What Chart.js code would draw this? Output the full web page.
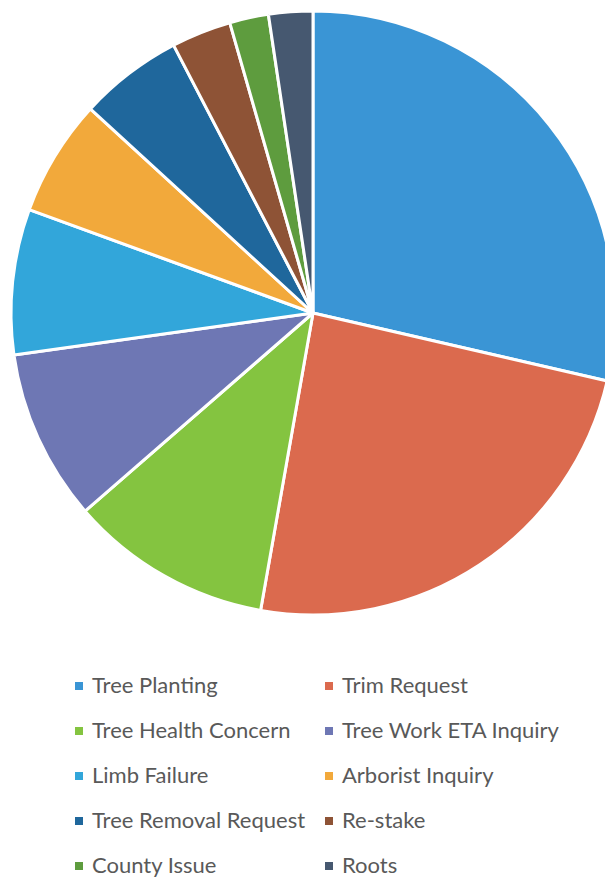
<!DOCTYPE html>
<html lang="en">
<head>
    <meta charset="UTF-8">
    <title>Service Requests by Type</title>
    <script src="https://cdn.jsdelivr.net/npm/chart.js"></script>
    <style>
        body { margin: 0; overflow: hidden; background: #fff; width: 605px; height: 878px; position: relative; }
        #pieWrap { position: absolute; left: 0; top: 0; width: 626px; height: 626px; }
        #legend {
            position: absolute; left: 75px; top: 662px;
            display: grid; grid-template-columns: 250px 250px;
            font-family: Lato, "Open Sans", sans-serif; font-size: 22px; color: #595959;
        }
        .item { height: 45px; line-height: 45px; white-space: nowrap; }
        .box { display: inline-block; width: 8px; height: 8px; margin-right: 9px; vertical-align: middle; position: relative; top: -1px; }
    </style>
</head>
<body>
    <div id="pieWrap"><canvas id="pieChart" width="626" height="626"></canvas></div>
    <div id="legend"></div>
    <script>
        const labels = ['Tree Planting', 'Trim Request', 'Tree Health Concern', 'Tree Work ETA Inquiry',
            'Limb Failure', 'Arborist Inquiry', 'Tree Removal Request', 'Re-stake', 'County Issue', 'Roots'];
        const counts = [103, 87, 39, 33, 28, 22.5, 20, 11.5, 7.5, 8.5];
        const colors = ['#3A95D5', '#DB6A4E', '#84C440', '#6E77B4', '#32A6DA',
            '#F2A93B', '#1F679C', '#8E5336', '#5E9C3E', '#465870'];

        const ctx = document.getElementById('pieChart').getContext('2d');
        const chart = new Chart(ctx, {
            type: 'pie',
            data: {
                labels: labels,
                datasets: [{
                    data: counts,
                    backgroundColor: colors,
                    borderColor: '#ffffff',
                    borderWidth: 3
                }]
            },
            options: {
                responsive: false,
                animation: false,
                radius: 302,
                layout: { padding: 0 },
                plugins: {
                    legend: { display: false },
                    tooltip: { enabled: false }
                }
            }
        });

        // legend as two columns, same order as the slices
        const legendEl = document.getElementById('legend');
        labels.forEach((name, i) => {
            const item = document.createElement('div');
            item.className = 'item';
            const box = document.createElement('span');
            box.className = 'box';
            box.style.background = colors[i];
            item.appendChild(box);
            item.appendChild(document.createTextNode(name));
            legendEl.appendChild(item);
        });
    </script>
</body>
</html>
